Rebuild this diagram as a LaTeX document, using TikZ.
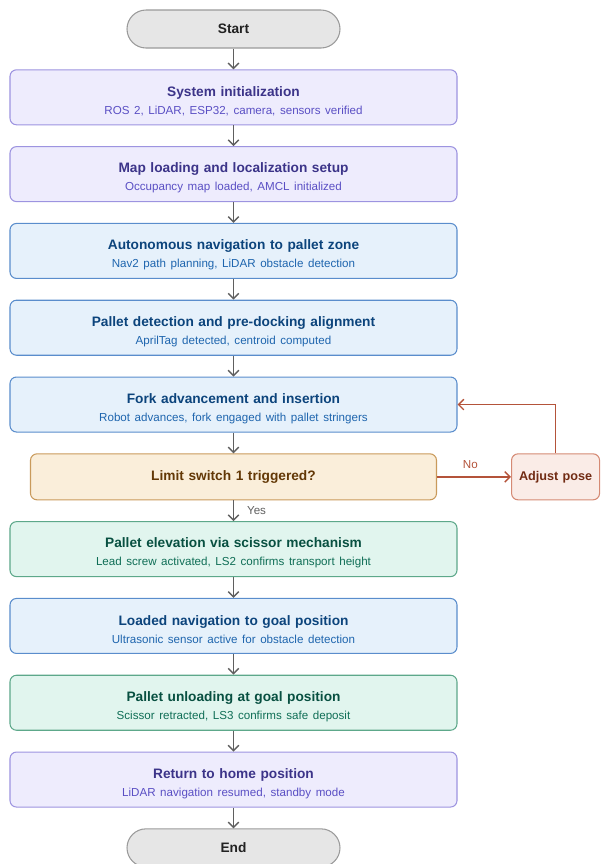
\documentclass[tikz,border=0pt]{standalone}
\usepackage{fontspec}
\setmainfont{Liberation Sans}
\usepackage{tikz}
\usetikzlibrary{positioning,arrows.meta}

\definecolor{termfill}{HTML}{E6E6E6}
\definecolor{termline}{HTML}{9A9A9A}
\definecolor{termtext}{HTML}{222222}
\definecolor{purfill}{HTML}{EEECFD}
\definecolor{purline}{HTML}{9D94E0}
\definecolor{purtext}{HTML}{3C3489}
\definecolor{pursub}{HTML}{5A4FC4}
\definecolor{bluefill}{HTML}{E6F1FB}
\definecolor{blueline}{HTML}{5A8DCC}
\definecolor{bluetext}{HTML}{0C447C}
\definecolor{bluesub}{HTML}{1E65AE}
\definecolor{greenfill}{HTML}{E1F5EE}
\definecolor{greenline}{HTML}{5DA88A}
\definecolor{greentext}{HTML}{085041}
\definecolor{greensub}{HTML}{0F6E56}
\definecolor{decfill}{HTML}{FAEEDA}
\definecolor{decline}{HTML}{C99A5B}
\definecolor{dectext}{HTML}{633806}
\definecolor{adjfill}{HTML}{FAECE7}
\definecolor{adjline}{HTML}{D58A74}
\definecolor{adjtext}{HTML}{712B13}
\definecolor{arrowgray}{HTML}{5F5F5F}
\definecolor{arrowred}{HTML}{B4533A}

\newcommand{\subline}[1]{{\fontsize{6.6}{8}\selectfont\mdseries #1}}

\begin{document}
\begin{tikzpicture}[-{Straight Barb[length=3pt,width=6pt]},line width=0.8pt,node distance=0.415cm,
    font=\fontsize{7.8}{10}\selectfont\bfseries,
    base/.style={rectangle,rounded corners=0.13cm,draw,line width=0.6pt,minimum width=8.94cm,
        minimum height=1.1cm,text width=8.6cm,align=center,inner sep=0pt},
    card/.style={base,execute at begin node={\rule{0pt}{10pt}}},
    terminal/.style={base,rounded corners=0.38cm,minimum width=4.26cm,minimum height=0.76cm,
        text width=4cm,fill=termfill,draw=termline,text=termtext},
    purple/.style={card,fill=purfill,draw=purline,text=purtext},
    blue/.style={card,fill=bluefill,draw=blueline,text=bluetext},
    green/.style={card,fill=greenfill,draw=greenline,text=greentext},
    decision/.style={base,minimum width=8.12cm,minimum height=0.92cm,text width=7.8cm,
        fill=decfill,draw=decline,text=dectext},
    adjust/.style={base,minimum width=1.76cm,minimum height=0.92cm,text width=1.7cm,
        fill=adjfill,draw=adjline,text=adjtext,font=\fontsize{7.2}{9}\selectfont\bfseries},
    small/.style={font=\fontsize{6.6}{8}\selectfont\mdseries},
    flow/.style={draw=arrowgray},
    loop/.style={draw=arrowred}]

    \useasboundingbox (0,0) rectangle (12,-17.28);

    \node[terminal] (0) at (4.67,-0.58) {Start};
    \node[purple, below=of 0] (1)
    {
        System initialization\\[0.3pt]
        \textcolor{pursub}{\subline{ROS 2, LiDAR, ESP32, camera, sensors verified}}
    };
    \node[purple, below=of 1] (2)
    {
        Map loading and localization setup\\[0.3pt]
        \textcolor{pursub}{\subline{Occupancy map loaded, AMCL initialized}}
    };
    \node[blue, below=of 2] (3)
    {
        Autonomous navigation to pallet zone\\[0.3pt]
        \textcolor{bluesub}{\subline{Nav2 path planning, LiDAR obstacle detection}}
    };
    \node[blue, below=of 3] (4)
    {
        Pallet detection and pre-docking alignment\\[0.3pt]
        \textcolor{bluesub}{\subline{AprilTag detected, centroid computed}}
    };
    \node[blue, below=of 4] (5)
    {
        Fork advancement and insertion\\[0.3pt]
        \textcolor{bluesub}{\subline{Robot advances, fork engaged with pallet stringers}}
    };
    \node[decision, below=of 5] (6) {Limit switch 1 triggered?};
    \node[adjust, right=1.48cm of 6] (7) {Adjust pose};
    \node[green, below=of 6] (8)
    {
        Pallet elevation via scissor mechanism\\[0.3pt]
        \textcolor{greensub}{\subline{Lead screw activated, LS2 confirms transport height}}
    };
    \node[blue, below=of 8] (9)
    {
        Loaded navigation to goal position\\[0.3pt]
        \textcolor{bluesub}{\subline{Ultrasonic sensor active for obstacle detection}}
    };
    \node[green, below=of 9] (10)
    {
        Pallet unloading at goal position\\[0.3pt]
        \textcolor{greensub}{\subline{Scissor retracted, LS3 confirms safe deposit}}
    };
    \node[purple, below=of 10] (11)
    {
        Return to home position\\[0.3pt]
        \textcolor{pursub}{\subline{LiDAR navigation resumed, standby mode}}
    };
    \node[terminal, below=of 11] (12) {End};

    \path[flow]
    {
        (0) edge (1)
        (1) edge (2)
        (2) edge (3)
        (3) edge (4)
        (4) edge (5)
        (5) edge (6)
        (6) edge node[right=4pt, small, text=arrowgray] {Yes} (8)
        (8) edge (9)
        (9) edge (10)
        (10) edge (11)
        (11) edge (12)
    };
    \path[loop]
    {
        (6) edge node[above=1pt, pos=0.45, small, text=arrowred] {No} (7)
    };
    \draw[loop] (7) |- (5);
\end{tikzpicture}
\end{document}
